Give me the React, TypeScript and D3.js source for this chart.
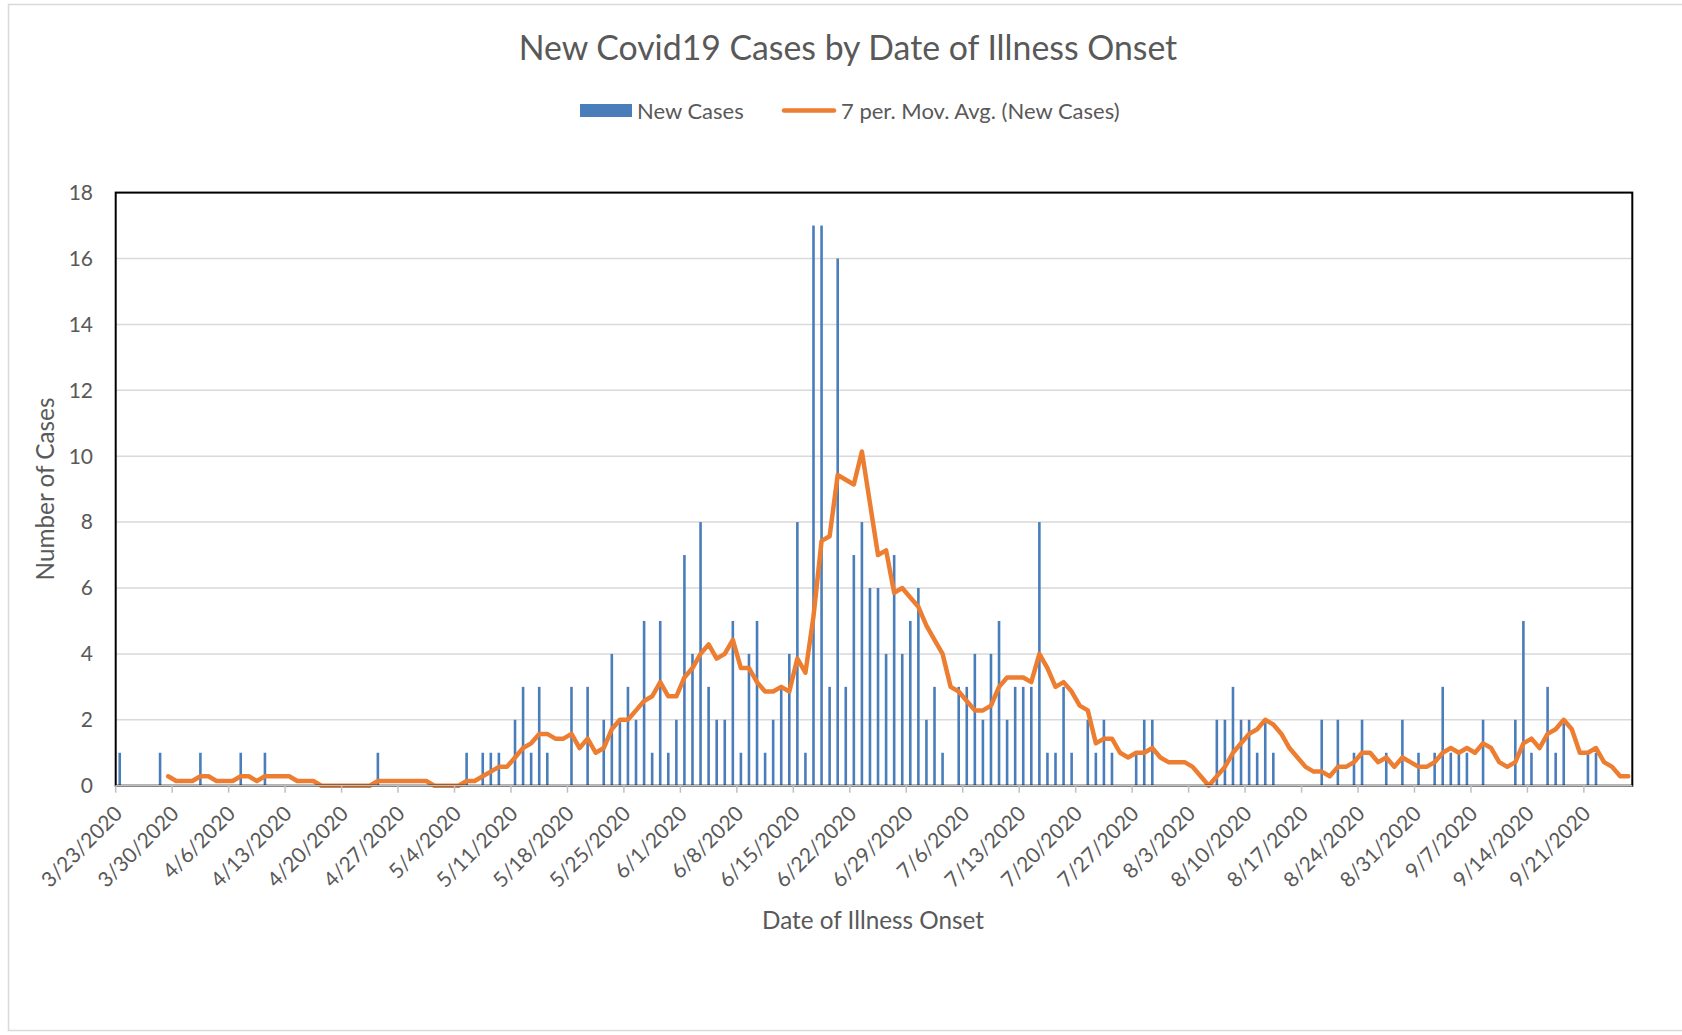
import React from "react";
import * as d3 from "d3";

// ---- data ----
const startDate = "2020-03-23";
const newCases: number[] = [
  1,0,0,0,0,1,0,0,0,0,
  1,0,0,0,0,1,0,0,1,0,
  0,0,0,0,0,0,0,0,0,0,
  0,0,1,0,0,0,0,0,0,0,
  0,0,0,1,0,1,1,1,0,2,
  3,1,3,1,0,0,3,0,3,0,
  2,4,2,3,2,5,1,5,1,2,
  7,4,8,3,2,2,5,1,4,5,
  1,2,3,4,8,1,17,17,3,16,
  3,7,8,6,6,4,7,4,5,6,
  2,3,1,0,3,3,4,2,4,5,
  2,3,3,3,8,1,1,3,1,0,
  2,1,2,1,0,0,1,2,2,0,
  0,0,0,0,0,0,2,2,3,2,
  2,1,2,1,0,0,0,0,0,2,
  0,2,0,1,2,0,0,1,0,2,
  0,1,0,1,3,1,1,1,0,2,
  0,0,0,2,5,1,0,3,1,2,
  0,0,1,1,0,0,0,0,
];
const maPeriod = 7;
const yTicks = [0, 2, 4, 6, 8, 10, 12, 14, 16, 18];
const titleText = "New Covid19 Cases by Date of Illness Onset";
const seriesNames = ["New Cases", "7 per. Mov. Avg. (New Cases)"];
const xTitle = "Date of Illness Onset";
const yTitle = "Number of Cases";

const W = 1682;
const H = 1035;
const P = { left: 115.7, right: 1632.3, top: 192.6, bottom: 785.7 };
const BLUE = "#4A7EBB";
const ORANGE = "#ED7D31";
const TXT = "#595959";
const FONT = "Lato, 'Open Sans', sans-serif";

export default function App() {
  const parse = d3.utcParse("%Y-%m-%d");
  const start = parse(startDate)!;
  const dates = newCases.map((_, i) => d3.utcDay.offset(start, i));
  const fmt = d3.utcFormat("%-m/%-d/%Y");

  const x = d3
    .scaleBand<number>()
    .domain(d3.range(newCases.length))
    .range([P.left, P.right])
    .padding(0);
  const bw = x.bandwidth();
  const cx = (i: number) => (x(i) as number) + bw / 2;
  const y = d3.scaleLinear().domain([0, 18]).range([P.bottom, P.top]);

  const ma: [number, number][] = [];
  for (let i = maPeriod - 1; i < newCases.length; i++) {
    ma.push([i, d3.mean(newCases.slice(i - maPeriod + 1, i + 1)) as number]);
  }
  const line = d3
    .line<[number, number]>()
    .x((d) => cx(d[0]))
    .y((d) => y(d[1]));

  const weekIdx = d3.range(0, newCases.length, 7);
  const barW = 2.6;

  return (
    <svg
      width={W}
      height={H}
      style={{ position: "absolute", left: 0, top: 0, background: "#fff" }}
      fontFamily={FONT}
    >
      <rect x={0} y={0} width={W} height={H} fill="#fff" />
      <rect x={8.5} y={4.5} width={1700} height={1026} fill="none" stroke="#d9d9d9" strokeWidth={1.5} />

      <text x={848} y={60} textAnchor="middle" fontSize={33.8} fill={TXT}>
        {titleText}
      </text>

      {/* legend */}
      <rect x={580} y={104} width={52} height={13} fill={BLUE} />
      <text x={637} y={118.5} fontSize={22} fill={TXT}>{seriesNames[0]}</text>
      <line x1={784} x2={834} y1={110.5} y2={110.5} stroke={ORANGE} strokeWidth={4.5} strokeLinecap="round" />
      <text x={841} y={118.5} fontSize={22} fill={TXT}>{seriesNames[1]}</text>

      {/* gridlines */}
      {yTicks.filter((t) => t > 0).map((t) => (
        <line key={t} x1={P.left} x2={P.right} y1={y(t)} y2={y(t)} stroke="#d9d9d9" strokeWidth={1.5} />
      ))}

      {/* y labels */}
      {yTicks.map((t) => (
        <text key={t} x={93} y={y(t)} dy="0.35em" textAnchor="end" fontSize={21} fill={TXT}>
          {t}
        </text>
      ))}

      {/* bars */}
      {newCases.map((v, i) =>
        v > 0 ? (
          <rect key={i} x={cx(i) - barW / 2} y={y(v)} width={barW} height={y(0) - y(v)} fill={BLUE} />
        ) : null
      )}

      {/* moving average */}
      <path d={line(ma) || ""} fill="none" stroke={ORANGE} strokeWidth={4.5} strokeLinejoin="round" strokeLinecap="round" />

      {/* plot border */}
      <rect x={P.left} y={P.top} width={P.right - P.left} height={P.bottom - P.top} fill="none" stroke="#000" strokeWidth={2} />
      <line x1={P.left} x2={P.right} y1={P.bottom} y2={P.bottom} stroke="#bfbfbf" strokeWidth={1.5} />

      {/* x ticks */}
      {weekIdx.map((i) => (
        <line key={i} x1={x(i) as number} x2={x(i) as number} y1={P.bottom} y2={P.bottom + 7} stroke="#bfbfbf" strokeWidth={1.5} />
      ))}
      {weekIdx.map((i) => (
        <text
          key={i}
          transform={`translate(${cx(i) + 4},${815}) rotate(-45)`}
          textAnchor="end"
          fontSize={21}
          fill={TXT}
        >
          {fmt(dates[i])}
        </text>
      ))}

      <text x={873} y={929} textAnchor="middle" fontSize={24.3} fill={TXT}>
        {xTitle}
      </text>
      <text transform={`translate(54,489) rotate(-90)`} textAnchor="middle" fontSize={24.3} fill={TXT}>
        {yTitle}
      </text>
    </svg>
  );
}
